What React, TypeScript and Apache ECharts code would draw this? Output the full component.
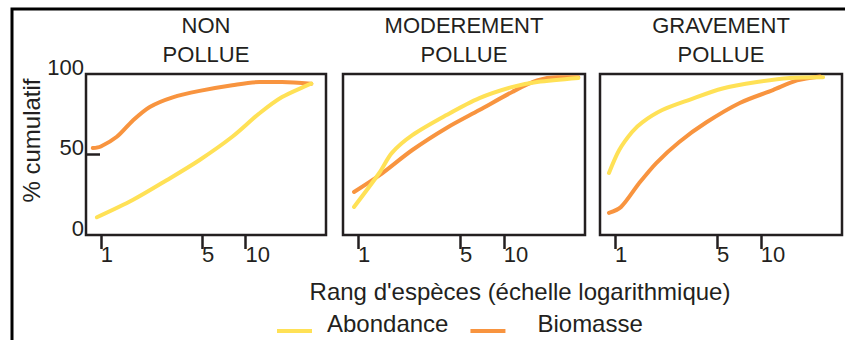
import React, { useEffect, useRef } from "react";
import * as echarts from "echarts";

// ---- data (rank of species, cumulative %) ----
const PANEL_TITLES = ["NON\nPOLLUE", "MODEREMENT\nPOLLUE", "GRAVEMENT\nPOLLUE"];
const SERIES_NAMES = ["Abondance", "Biomasse"];
const X_TICKS = [1, 5, 10];
const Y_TICKS = [0, 50, 100];
const Y_MID_TICK = [50];

const RANK_NP_AB = [0.94, 1.66, 2.85, 4.82, 8.1, 12.5, 17.9, 28.5];
const NP_AB = [11, 21.7, 34, 46.6, 61, 75.6, 85.7, 94];
const RANK_NP_BIO = [0.88, 1.0, 1.29, 1.66, 2.18, 3.14, 4.82, 8.1, 12.5, 17.9, 28.5];
const NP_BIO = [54, 55, 61, 71, 79.5, 85.5, 89.5, 93, 95, 95, 94];

const RANK_MP_AB = [0.94, 1.4, 1.71, 2.36, 4.05, 6.8, 11.5, 16.9, 32.4];
const MP_AB = [17.4, 38.5, 51, 62, 74.5, 85, 92, 95, 97.5];
const RANK_MP_BIO = [0.94, 1.4, 2.36, 4.05, 6.8, 11.5, 16.9, 23.2, 32.4];
const MP_BIO = [26.7, 37, 52.8, 66.5, 77.6, 89, 96, 98, 98];

const RANK_GP_AB = [0.91, 1.07, 1.31, 1.54, 2.11, 3.24, 5.47, 9.4, 15.8, 26.7];
const GP_AB = [38.5, 52.8, 64, 70, 77.6, 84, 91, 95, 97.5, 98];
const RANK_GP_BIO = [0.91, 1.1, 1.46, 1.92, 2.76, 4.24, 7.17, 12.1, 17.7, 25.5];
const GP_BIO = [13.7, 17.4, 32, 44.7, 57.8, 70, 82, 90, 96, 98.5];

const X_RANGE = [0.79, 36];

const AB_COLOR = "#FFE156";
const BIO_COLOR = "#F8943F";
const INK = "#231F20";
const FONT = "'Liberation Sans', Arial, Helvetica, sans-serif";

// legend sample: a bar at the bottom of a taller icon box
const LEGEND_ICON = "path://M0,0 L0.01,0 Z M0,16 L35,16 L35,20 L0,20 Z";

const toPairs = (ranks: number[], vals: number[]) =>
  ranks.map((r, i) => [Math.log10(r), vals[i]]);

export default function App() {
  const ref = useRef<HTMLDivElement>(null);

  useEffect(() => {
    if (!ref.current) return;
    const chart = echarts.init(ref.current, null, { renderer: "svg" });

    const grids = [
      { left: 86, top: 74, width: 240, height: 161 },
      { left: 343, top: 74, width: 242, height: 161 },
      { left: 600, top: 74, width: 242, height: 161 },
    ];
    const panels = [
      { ab: toPairs(RANK_NP_AB, NP_AB), bio: toPairs(RANK_NP_BIO, NP_BIO) },
      { ab: toPairs(RANK_MP_AB, MP_AB), bio: toPairs(RANK_MP_BIO, MP_BIO) },
      { ab: toPairs(RANK_GP_AB, GP_AB), bio: toPairs(RANK_GP_BIO, GP_BIO) },
    ];
    const xTickVals = X_TICKS.map((t) => Math.log10(t));

    const option: any = {
      animation: false,
      backgroundColor: "#fff",
      textStyle: { fontFamily: FONT, color: INK },
      title: [
        ...PANEL_TITLES.map((t, i) => ({
          text: t,
          left: grids[i].left + grids[i].width / 2,
          top: 11,
          padding: 0,
          textAlign: "center",
          textStyle: {
            fontFamily: FONT,
            fontSize: 22,
            fontWeight: "normal",
            color: INK,
            lineHeight: 29,
          },
        })),
        {
          text: "Rang d'espèces (échelle logarithmique)",
          left: 520,
          top: 277,
          padding: 0,
          textAlign: "center",
          textStyle: {
            fontFamily: FONT,
            fontSize: 24,
            fontWeight: "normal",
            color: INK,
            lineHeight: 29,
          },
        },
      ],
      legend: {
        data: [
          { name: SERIES_NAMES[0], textStyle: { padding: [0, 0, 0, 10] } },
          { name: SERIES_NAMES[1], textStyle: { padding: [0, 0, 0, 27] } },
        ],
        left: 277,
        top: 311,
        padding: 0,
        icon: LEGEND_ICON,
        itemWidth: 35,
        itemHeight: 20,
        itemGap: 22,
        textStyle: {
          fontFamily: FONT,
          fontSize: 24,
          color: INK,
        },
      },
      graphic: [
        {
          type: "rect",
          silent: true,
          shape: { x: 12, y: 9, width: 1000, height: 1000 },
          style: { fill: "none", stroke: "#000", lineWidth: 3 },
        },
      ],
      grid: grids.map((g) => ({
        ...g,
        show: true,
        borderColor: INK,
        borderWidth: 2.5,
        backgroundColor: "transparent",
      })),
      xAxis: grids.map((_, i) => ({
        type: "value",
        gridIndex: i,
        min: Math.log10(X_RANGE[0]),
        max: Math.log10(X_RANGE[1]),
        axisLine: { show: false, onZero: false },
        splitLine: { show: false },
        axisTick: {
          show: true,
          inside: false,
          length: 14,
          customValues: xTickVals,
          lineStyle: { color: INK, width: 2.5 },
        },
        axisLabel: {
          show: true,
          customValues: xTickVals,
          align: "left",
          margin: 8,
          fontSize: 22,
          fontFamily: FONT,
          color: INK,
          formatter: (v: number) => String(Math.round(Math.pow(10, v))),
        },
      })),
      yAxis: grids.map((_, i) => ({
        type: "value",
        gridIndex: i,
        min: 0,
        max: 100,
        interval: 50,
        name: i === 0 ? "% cumulatif" : "",
        nameLocation: "middle",
        nameRotate: 90,
        nameGap: 33,
        nameTextStyle: {
          fontFamily: FONT,
          fontSize: 24,
          color: INK,
          padding: [0, 0, 0, 28],
        },
        axisLine: { show: false, onZero: false },
        splitLine: { show: false },
        axisTick: {
          show: i === 0,
          inside: true,
          length: 14,
          customValues: Y_MID_TICK,
          lineStyle: { color: INK, width: 2.5 },
        },
        axisLabel: {
          show: i === 0,
          customValues: Y_TICKS,
          margin: 2,
          fontSize: 22,
          fontFamily: FONT,
          color: INK,
          verticalAlign: "bottom",
          lineHeight: 14,
          formatter: (v: number) => String(v),
        },
      })),
      series: panels.flatMap((p, i) => [
        {
          name: SERIES_NAMES[1],
          type: "line",
          xAxisIndex: i,
          yAxisIndex: i,
          data: p.bio,
          smooth: 0.3,
          showSymbol: false,
          color: BIO_COLOR,
          lineStyle: { color: BIO_COLOR, width: 4, cap: "round" },
        },
        {
          name: SERIES_NAMES[0],
          type: "line",
          xAxisIndex: i,
          yAxisIndex: i,
          data: p.ab,
          smooth: 0.3,
          showSymbol: false,
          color: AB_COLOR,
          lineStyle: { color: AB_COLOR, width: 4, cap: "round" },
        },
      ]),
    };

    chart.setOption(option);
    return () => chart.dispose();
  }, []);

  return (
    <div
      ref={ref}
      style={{ position: "absolute", left: 0, top: 0, width: 845, height: 340 }}
    />
  );
}
